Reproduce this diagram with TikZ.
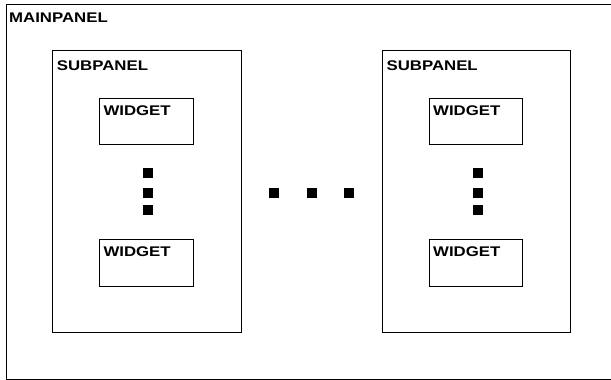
\documentclass[tikz,border=0pt]{standalone}
\usepackage{fontspec}
\setmainfont{Liberation Sans}[FakeStretch=1.2]
\begin{document}
\begin{tikzpicture}[x=1pt,y=-1pt,
  panelbox/.style={draw=black,line width=0.9pt,fill=none},
  lbl/.style={anchor=base west,inner sep=0pt,font=\fontsize{14}{14}\selectfont\bfseries},
  sq/.style={fill=black,minimum size=10pt,inner sep=0pt}]
\useasboundingbox (0,0) rectangle (611,380);
\clip (0,0) rectangle (611,380);
% main panel (cut off at right)
\draw[panelbox] (6.5,4) rectangle (640,379.5);
\node[lbl] (mainlbl) at (9,22.7) {MAINPANEL};
% subpanels
\foreach \dx/\n in {0/a,329.7/b}{
  \begin{scope}[xshift=\dx]
  \draw[panelbox] (52.3,50) rectangle (241,332);
  \node[lbl] (sub\n) at (56.7,70) {SUBPANEL};
  \draw[panelbox] (99.7,98) rectangle (193,144);
  \node[lbl] (w1\n) at (103.3,115.7) {WIDGET};
  \draw[panelbox] (99.7,239) rectangle (193,286);
  \node[lbl] (w2\n) at (103.3,256.7) {WIDGET};
  \node[sq] (d1\n) at (148,173) {};
  \node[sq] (d2\n) at (148,192.5) {};
  \node[sq] (d3\n) at (148,209.5) {};
  \end{scope}
}
\node[sq] (h1) at (273.5,192.5) {};
\node[sq] (h2) at (311.5,192.5) {};
\node[sq] (h3) at (348.5,192.5) {};
\end{tikzpicture}
\end{document}
